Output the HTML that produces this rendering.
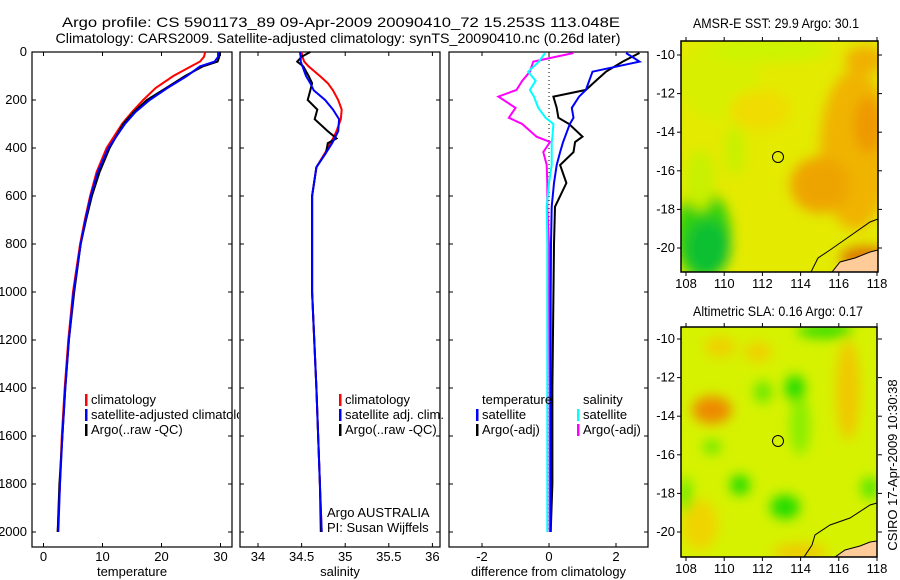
<!DOCTYPE html>
<html><head><meta charset="utf-8"><style>
html,body{margin:0;padding:0;background:#fff;}
svg{display:block;font-family:"Liberation Sans","DejaVu Sans",sans-serif;}
text{font-size:13px;fill:#000;}
</style></head><body>
<svg id="c" width="900" height="580" viewBox="0 0 900 580">
<defs>
<filter id="bl" x="-20%" y="-20%" width="140%" height="140%"><feGaussianBlur stdDeviation="6"/></filter>
<clipPath id="cm1"><rect x="681" y="41" width="197" height="231"/></clipPath>
<clipPath id="cm2"><rect x="681" y="327" width="196" height="230"/></clipPath>
<clipPath id="cp1"><rect x="0" y="0" width="239" height="580"/></clipPath>
</defs>
<text x="341" y="27" text-anchor="middle" textLength="558" lengthAdjust="spacingAndGlyphs" style="font-size:14px">Argo profile: CS 5901173_89 09-Apr-2009 20090410_72 15.253S 113.048E</text>
<text x="338" y="43" text-anchor="middle" textLength="565" lengthAdjust="spacingAndGlyphs" style="font-size:14px">Climatology: CARS2009. Satellite-adjusted climatology: synTS_20090410.nc (0.26d later)</text>
<g id="plots"></g>

<!-- SST map -->
<g>
<text x="776" y="28" text-anchor="middle" textLength="166" lengthAdjust="spacingAndGlyphs" style="font-size:14px">AMSR-E SST: 29.9 Argo: 30.1</text>
<g clip-path="url(#cm1)">
<rect x="681" y="41" width="197" height="231" fill="#e4ea00"/>
<g filter="url(#bl)">
<ellipse cx="720" cy="80" rx="40" ry="40" fill="#d8f000"/>
<ellipse cx="770" cy="50" rx="60" ry="12" fill="#ccf400"/>
<ellipse cx="760" cy="110" rx="30" ry="20" fill="#f0dc00"/>
<ellipse cx="865" cy="60" rx="20" ry="14" fill="#f0b000"/>
<ellipse cx="855" cy="150" rx="35" ry="80" fill="#f0b400"/>
<ellipse cx="820" cy="185" rx="30" ry="28" fill="#eea400"/>
<ellipse cx="868" cy="125" rx="14" ry="28" fill="#ee9800"/>
<ellipse cx="865" cy="258" rx="25" ry="12" fill="#dd7a00"/>
<ellipse cx="703" cy="235" rx="28" ry="45" fill="#30d010"/>
<ellipse cx="708" cy="248" rx="22" ry="28" fill="#10c030"/>
<ellipse cx="735" cy="150" rx="10" ry="25" fill="#c8f000"/>
<ellipse cx="700" cy="180" rx="15" ry="30" fill="#c8f000"/>
</g>
<path d="M811,272 L818,258 L830,250 L850,236 L870,222 L878,219" fill="none" stroke="#000" stroke-width="1"/>
<path d="M832,272 L840,262 L855,258 L870,252 L878,250 L878,272 Z" fill="#ffcc99" stroke="#000" stroke-width="1"/>
</g>
<rect x="681" y="41" width="197" height="231" fill="none" stroke="#000" stroke-width="1.5"/>
<circle cx="778" cy="157" r="5.5" fill="none" stroke="#000"/>
</g>

<!-- SLA map -->
<g>
<text x="778" y="316" text-anchor="middle" textLength="170" lengthAdjust="spacingAndGlyphs" style="font-size:14px">Altimetric SLA: 0.16 Argo: 0.17</text>
<g clip-path="url(#cm2)">
<rect x="681" y="327" width="196" height="230" fill="#d6f200"/>
<g filter="url(#bl)">
<ellipse cx="712" cy="410" rx="20" ry="14" fill="#ee8a00"/>
<ellipse cx="720" cy="347" rx="16" ry="10" fill="#f0d000"/>
<ellipse cx="758" cy="352" rx="14" ry="10" fill="#f0d000"/>
<ellipse cx="848" cy="390" rx="12" ry="50" fill="#f0c800"/>
<ellipse cx="800" cy="552" rx="28" ry="8" fill="#f0c800"/>
<ellipse cx="700" cy="525" rx="18" ry="25" fill="#f0d400"/>
<ellipse cx="800" cy="425" rx="10" ry="30" fill="#88ee00"/>
<ellipse cx="795" cy="388" rx="10" ry="13" fill="#22dd00"/>
<ellipse cx="763" cy="392" rx="9" ry="11" fill="#66e800"/>
<ellipse cx="740" cy="485" rx="10" ry="10" fill="#22dd00"/>
<ellipse cx="785" cy="507" rx="15" ry="12" fill="#22dd00"/>
<ellipse cx="712" cy="447" rx="9" ry="7" fill="#66e800"/>
<ellipse cx="825" cy="331" rx="28" ry="7" fill="#33dd00"/>
<ellipse cx="870" cy="488" rx="9" ry="11" fill="#55e600"/>
<ellipse cx="686" cy="495" rx="5" ry="18" fill="#55e600"/>
</g>
<path d="M804,557 L812,545 L815,535 L830,525 L850,518 L870,505 L877,503" fill="none" stroke="#000" stroke-width="1"/>
<path d="M835,557 L845,550 L860,546 L870,542 L877,541 L877,557 Z" fill="#ffcc99" stroke="#000" stroke-width="1"/>
</g>
<rect x="681" y="327" width="196" height="230" fill="none" stroke="#000" stroke-width="1.5"/>
<circle cx="778" cy="441" r="5.5" fill="none" stroke="#000"/>
</g>
<text transform="translate(897,465) rotate(-90)" text-anchor="middle">CSIRO 17-Apr-2009 10:30:38</text>
</svg>
<script>
const depths = [0,20,40,60,100,150,200,250,300,400,500,600,700,800,1000,1200,1400,1600,1800,2000];
const tempClim = [27.4,27.2,26.5,25,22,19,16.9,15,13.3,10.7,9,7.9,7,6.2,5,4.2,3.6,3.1,2.8,2.4];
const tempSat = [29.6,29.6,29,26.5,24.3,21,18,15.6,13.8,11,9.2,8,7.1,6.3,5.1,4.3,3.7,3.2,2.8,2.5];
const tempArgo = [29.8,29.8,29.5,27,24,20.8,17.5,15.3,13.5,11.2,9.5,8.2,7.2,6.3,5.2,4.3,3.7,3.2,2.7,2.4];
const salDepths = [0,20,40,60,100,130,160,200,240,280,330,360,380,420,480,600,1000,1400,1800,2000];
const salClim = [34.5,34.51,34.53,34.58,34.71,34.8,34.86,34.92,34.96,34.95,34.9,34.86,34.83,34.77,34.67,34.62,34.62,34.67,34.71,34.73];
const salSat = [34.48,34.49,34.49,34.51,34.55,34.6,34.64,34.77,34.86,34.93,34.92,34.88,34.85,34.78,34.67,34.62,34.62,34.67,34.71,34.73];
const salArgo = [34.6,34.5,34.45,34.52,34.58,34.62,34.6,34.57,34.68,34.65,34.8,34.9,34.8,34.78,34.67,34.62,34.62,34.67,34.71,34.72];
const diffDepths = [4,40,82,120,158,186,233,274,300,353,375,417,471,546,645,800,1021,1400,1800,2000];
const dTempSat = [2.3,2.7,1.3,1.2,1.1,0.9,0.68,0.73,0.62,0.48,0.42,0.33,0.23,0.15,0.08,0.06,0.05,0.05,0.05,0.05];
const dTempArgo = [2.7,2.2,1.7,1.4,1.1,0.13,0.23,0.28,0.6,1.0,0.78,0.73,0.33,0.52,0.18,0.15,0.13,0.1,0.1,0.05];
const dSalSat = [-0.12,-0.3,-0.62,-0.4,-0.57,-0.45,-0.32,-0.1,0.13,0.1,0.08,0.08,0.08,0.0,-0.07,-0.05,-0.05,-0.05,-0.05,-0.05];
const dSalArgo = [0.73,-0.47,-0.57,-0.8,-0.97,-1.51,-1.0,-1.2,-0.8,-0.37,0.03,-0.17,-0.07,-0.05,-0.05,0.0,0.0,0.02,0.02,0.02];
const depthTicks = [0,200,400,600,800,1000,1200,1400,1600,1800,2000];
const tempTicks = [0,10,20,30];
const salTicks = [34,34.5,35,35.5,36];
const diffTicks = [-2,0,2];
const latTicks = [-10,-12,-14,-16,-18,-20];
const lonTicks = [108,110,112,114,116,118];

const NS='http://www.w3.org/2000/svg';
const svg=document.getElementById('plots');
function el(tag,attrs,parent){const e=document.createElementNS(NS,tag);for(const k in attrs)e.setAttribute(k,attrs[k]);(parent||svg).appendChild(e);return e;}
const yD=d=>52+d*0.24;
const panels=[
 {name:'temperature',x0:32,x1:232,sx:v=>43.5+v*5.9,ticks:tempTicks,label:'temperature'},
 {name:'salinity',x0:240,x1:440,sx:v=>258+(v-34)*87.2,ticks:salTicks,label:'salinity'},
 {name:'difference',x0:449,x1:648,sx:v=>549+v*33.5,ticks:diffTicks,label:'difference from climatology'}
];
const yTop=52,yBot=547;
panels.forEach((p,i)=>{
 const g=el('g',{});
 
 
 const r=el('rect',{x:p.x0,y:yTop,width:p.x1-p.x0,height:yBot-yTop,fill:'none',stroke:'#000','stroke-width':1.2},g);
 
 
 p.ticks.forEach(t=>{
  const x=p.sx(t);
  el('line',{x1:x,x2:x,y1:yBot,y2:yBot-4,stroke:'#000'},g);
  el('line',{x1:x,x2:x,y1:yTop,y2:yTop+4,stroke:'#000'},g);
  const tx=el('text',{x:x,y:561,'text-anchor':'middle'},g);tx.textContent=String(t);
  
  
 });
 depthTicks.forEach(d=>{
  const y=yD(d);
  el('line',{x1:p.x0,x2:p.x0+4,y1:y,y2:y,stroke:'#000'},g);
  el('line',{x1:p.x1,x2:p.x1-4,y1:y,y2:y,stroke:'#000'},g);
  if(i===0){const tx=el('text',{x:27,y:y+4,'text-anchor':'end'},g);tx.textContent=String(d);
   
   }
 });
 const xl=el('text',{x:(p.x0+p.x1)/2,y:576,'text-anchor':'middle'},g);xl.textContent=p.label;
 
 
});
function line(p,ds,vs,color,name,w){
 const pts=ds.map((d,k)=>p.sx(vs[k]).toFixed(1)+','+yD(d).toFixed(1)).join(' ');
 const pl=el('polyline',{points:pts,fill:'none',stroke:color,'stroke-width':w||2});
 
 
}
line(panels[0],depths,tempClim,'#f00','temp-climatology-line');
line(panels[0],depths,tempArgo,'#000','temp-argo-line');
line(panels[0],depths,tempSat,'#00f','temp-satellite-line');
line(panels[1],salDepths,salClim,'#f00','sal-climatology-line');
line(panels[1],salDepths,salArgo,'#000','sal-argo-line');
line(panels[1],salDepths,salSat,'#00f','sal-satellite-line');
el('line',{x1:549,x2:549,y1:yTop,y2:yD(2000),stroke:'#000','stroke-dasharray':'1,3'});
line(panels[2],diffDepths,dSalArgo,'#f0f','diff-sal-argo-line');
line(panels[2],diffDepths,dTempArgo,'#000','diff-temp-argo-line');
line(panels[2],diffDepths,dTempSat,'#00f','diff-temp-satellite-line');
line(panels[2],diffDepths,dSalSat,'#0ff','diff-sal-satellite-line');

function legend(x,y,color,label,name,clip){
 if(color){const b=el('rect',{x:x-6,y:y-10,width:2.5,height:12,fill:color});
  
  }
 const t=el('text',{x:x,y:y});t.textContent=label;
 if(clip)t.setAttribute('clip-path','url(#cp1)');
 
 
}
legend(91,404,'#f00','climatology','legend-temp-climatology',1);
legend(91,419,'#00f','satellite-adjusted climatology','legend-temp-satellite',1);
legend(91,434,'#000','Argo(..raw -QC)','legend-temp-argo',1);
legend(345,404,'#f00','climatology','legend-sal-climatology');
legend(345,419,'#00f','satellite adj. clim.','legend-sal-satellite');
legend(345,434,'#000','Argo(..raw -QC)','legend-sal-argo');
legend(482,404,null,'temperature','legend-diff-temperature-header');
legend(482,419,'#00f','satellite','legend-diff-temp-satellite');
legend(482,434,'#000','Argo(-adj)','legend-diff-temp-argo');
legend(583,404,null,'salinity','legend-diff-salinity-header');
legend(583,419,'#0ff','satellite','legend-diff-sal-satellite');
legend(583,434,'#f0f','Argo(-adj)','legend-diff-sal-argo');
const a1=el('text',{x:327,y:517});a1.textContent='Argo AUSTRALIA';


const a2=el('text',{x:327,y:532});a2.textContent='PI: Susan Wijffels';



const root=document.getElementById('c');
[{y0:41,y1:272,lat10:55,lat20:248,name:'sst'},{y0:327,y1:557,lat10:339,lat20:532,name:'sla'}].forEach(m=>{
 const g=el('g',{},root);
 
 
 const sy=v=>m.lat10+(-10-v)*(m.lat20-m.lat10)/10;
 const sx=v=>686+(v-108)*19.1;
 latTicks.forEach(v=>{const y=sy(v);
  el('line',{x1:677,x2:681,y1:y,y2:y,stroke:'#000'},g);
  el('line',{x1:878,x2:882,y1:y,y2:y,stroke:'#000'},g);
  const t=el('text',{x:675,y:y+4,'text-anchor':'end'},g);t.textContent=String(v);
  
  });
 lonTicks.forEach(v=>{const x=sx(v);
  el('line',{x1:x,x2:x,y1:m.y1,y2:m.y1+4,stroke:'#000'},g);
  el('line',{x1:x,x2:x,y1:m.y0,y2:m.y0-4,stroke:'#000'},g);
  const t=el('text',{x:x,y:m.y1+16,'text-anchor':'middle'},g);t.textContent=String(v);
  
  });
});
</script>
</body></html>
